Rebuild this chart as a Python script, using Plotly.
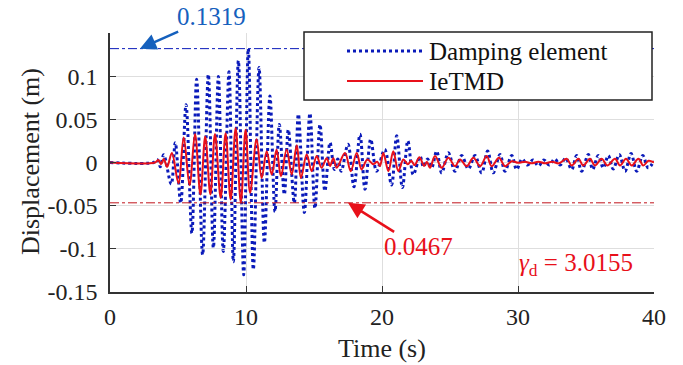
import plotly.graph_objects as go

# ---- data (extrema) ----
t_damp = [0, 3.2, 3.5, 3.7, 3.95, 4.5, 4.8, 5.2, 5.59, 6.02, 6.37, 6.81, 7.23, 7.6, 7.97,
          8.33, 8.75, 9.07, 9.44, 9.83, 10.17, 10.54, 10.96, 11.35, 11.76, 12.13, 12.45,
          12.82, 13.11, 13.55, 13.85, 14.29, 14.7, 15.07, 15.44, 15.8, 16.18, 16.5, 16.75,
          17.0, 17.5, 17.94, 18.38, 18.75, 19.17, 19.6, 20.2, 20.7, 21.08, 21.5, 21.9, 22.3,
          22.8, 23.05, 23.35, 23.65, 24.02, 24.39, 24.88, 25.37, 25.86, 26.35, 26.84, 27.33,
          27.77, 28.18, 28.68, 29.04, 29.54, 29.9, 30.3, 30.7, 31.1, 31.5, 31.9, 32.3, 32.7,
          33.1, 33.5, 33.95, 34.31, 34.68, 35.17, 35.49, 35.9, 36.27, 36.64, 37.0, 37.45,
          37.87, 38.31, 38.73, 39.17, 39.58, 40]
d_damp = [0, 0, 0.003, -0.005, 0.009, -0.025, 0.023, -0.047, 0.067, -0.082, 0.0965, -0.107,
          0.102, -0.099, 0.0996, -0.103, 0.105, -0.115, 0.118, -0.130, 0.1319, -0.124, 0.110,
          -0.093, 0.077, -0.057, 0.044, -0.037, 0.038, -0.047, 0.056, -0.058, 0.057, -0.053,
          0.044, -0.033, 0.023, -0.008, 0.004, -0.010, 0.021, -0.028, 0.0326, -0.031, 0.027,
          -0.010, 0.015, -0.026, 0.031, -0.029, 0.025, -0.014, 0.007, -0.005, 0.004, -0.006,
          0.0132, -0.012, 0.0112, -0.0101, 0.0081, -0.0074, 0.0081, -0.012, 0.0132, -0.012,
          0.0093, -0.0101, 0.0081, -0.0081, 0.004, -0.003, 0.003, -0.004, 0.003, -0.003,
          0.004, -0.003, 0.005, -0.0081, 0.0081, -0.0101, 0.0093, -0.0081, 0.0081, -0.0062,
          0.0081, -0.0074, 0.0093, -0.0101, 0.0105, -0.0101, 0.0081, -0.0062, 0.002]

t_ietmd = [0, 3.3, 3.55, 3.75, 3.95, 4.2, 4.55, 5.03, 5.42, 5.85, 6.25, 6.65, 7.0, 7.38,
           7.72, 8.14, 8.5, 8.87, 9.24, 9.62, 9.97, 10.3, 10.78, 11.15, 11.52, 11.89, 12.25,
           12.57, 12.99, 13.36, 13.73, 14.04, 14.46, 14.83, 15.2, 15.56, 15.93, 16.18, 16.42,
           16.67, 17.28, 17.7, 18.14, 18.5, 18.92, 19.36, 19.65, 19.85, 20.1, 20.47, 20.83,
           21.2, 21.57, 21.9, 22.15, 22.4, 22.75, 23.1, 23.3, 23.53, 23.9, 24.39, 24.88,
           25.37, 25.74, 26.23, 26.72, 27.21, 27.7, 28.06, 28.6, 29.04, 29.54, 30.02, 30.5,
           31.0, 31.5, 32.0, 32.5, 33.0, 33.58, 33.95, 34.44, 34.8, 35.29, 35.66, 36.15,
           36.57, 37.13, 37.5, 37.94, 38.36, 38.85, 39.21, 39.6, 40]
d_ietmd = [0, 0, 0.003, -0.002, 0.004, -0.005, 0.011, -0.024, 0.029, -0.026, 0.033, -0.037,
           0.030, -0.037, 0.033, -0.041, 0.034, -0.043, 0.040, -0.0467, 0.038, -0.035, 0.027,
           -0.018, 0.013, -0.014, 0.015, -0.016, 0.015, -0.014, 0.020, -0.018, 0.0093, -0.010,
           0.0074, -0.006, 0.005, -0.004, 0.005, -0.006, 0.011, -0.010, 0.011, -0.008, 0.0035,
           -0.002, 0.001, -0.004, 0.011, -0.010, 0.013, -0.010, 0.0035, -0.002, 0.002, -0.003,
           0.006, -0.004, 0.001, -0.006, 0.0074, -0.0062, 0.0054, -0.0043, 0.0035, -0.0043,
           0.0054, -0.0043, 0.0074, -0.0043, 0.0054, -0.0043, 0.0015, -0.0004, 0.001, -0.001,
           0.001, -0.001, 0.001, -0.001, 0.0043, -0.0035, 0.0043, -0.0035, 0.0043, -0.0035,
           0.0043, -0.0035, 0.0043, -0.0035, 0.0043, -0.0035, 0.0043, -0.0035, 0.002, 0]

series_names = ["Damping element", "IeTMD"]
peak_damp = 0.1319
peak_ietmd = -0.0467
gamma_text = "<i>γ</i><sub>d</sub> = 3.0155"
x_ticks = [0, 10, 20, 30, 40]
y_ticks = [-0.15, -0.1, -0.05, 0, 0.05, 0.1]
y_tick_text = ["-0.15", "-0.1", "-0.05", "0", "0.05", "0.1"]

BLUE = "#0a1aba"
RED = "#e8101a"
DRED = "#c0141c"
ABLUE = "#1560bd"
FONT = "Liberation Serif"

fig = go.Figure()
fig.add_trace(go.Scatter(x=t_damp, y=d_damp, mode="lines", name=series_names[0],
                         line=dict(color=BLUE, width=3, dash="dot", shape="spline", smoothing=1)))
fig.add_trace(go.Scatter(x=t_ietmd, y=d_ietmd, mode="lines", name=series_names[1],
                         line=dict(color=RED, width=2, shape="spline", smoothing=1)))

shapes = [
    dict(type="line", xref="x", yref="y", x0=0, x1=40, y0=peak_damp, y1=peak_damp,
         line=dict(color=BLUE, width=1, dash="dashdot"), layer="above"),
    dict(type="line", xref="x", yref="y", x0=0, x1=40, y0=peak_ietmd, y1=peak_ietmd,
         line=dict(color=DRED, width=1, dash="dashdot"), layer="above"),
]

L, R, T, B = 110, 654, 33, 292
def px(x):
    return (x - L) / (R - L)
def py(y):
    return (B - y) / (B - T)

shapes.append(dict(type="rect", xref="paper", yref="paper", x0=px(304), x1=px(652),
                   y0=py(100), y1=py(32), fillcolor="white",
                   line=dict(color="#222222", width=1.5), layer="above"))
shapes.append(dict(type="line", xref="paper", yref="paper", x0=px(347), x1=px(423),
                   y0=py(51), y1=py(51), line=dict(color=BLUE, width=3, dash="dot"), layer="above"))
shapes.append(dict(type="line", xref="paper", yref="paper", x0=px(347), x1=px(423),
                   y0=py(81), y1=py(81), line=dict(color=RED, width=2), layer="above"))

annotations = [
    dict(xref="paper", yref="paper", x=px(427), y=py(52), text=series_names[0],
         showarrow=False, xanchor="left", yanchor="middle",
         font=dict(family=FONT, size=25, color="#111111")),
    dict(xref="paper", yref="paper", x=px(427), y=py(82), text=series_names[1],
         showarrow=False, xanchor="left", yanchor="middle",
         font=dict(family=FONT, size=25, color="#111111")),
    dict(x=2.2, y=peak_damp, xref="x", yref="y", text=f"{peak_damp:.4f}",
         showarrow=True, arrowhead=2, arrowsize=1.3, arrowwidth=2.5, arrowcolor=ABLUE,
         ax=72, ay=-32, xanchor="center", yanchor="middle",
         font=dict(family=FONT, size=25, color=ABLUE)),
    dict(x=17.5, y=peak_ietmd, xref="x", yref="y", text=f"{abs(peak_ietmd):.4f}",
         showarrow=True, arrowhead=2, arrowsize=1.3, arrowwidth=2.5, arrowcolor=RED,
         ax=70, ay=44, xanchor="center", yanchor="middle",
         font=dict(family=FONT, size=25, color=RED)),
    dict(x=34.3, y=-0.1186, xref="x", yref="y", text=gamma_text, showarrow=False,
         xanchor="center", yanchor="middle",
         font=dict(family=FONT, size=25, color=RED)),
    dict(xref="paper", yref="paper", x=px(382), y=py(348), text="Time (s)", showarrow=False,
         xanchor="center", yanchor="middle",
         font=dict(family=FONT, size=26, color="#222222")),
    dict(xref="paper", yref="paper", x=px(30), y=py(162), text="Displacement (m)",
         showarrow=False, textangle=-90, xanchor="center", yanchor="middle",
         font=dict(family=FONT, size=26, color="#222222")),
]

axis_common = dict(showgrid=True, gridcolor="#dedede", gridwidth=1, zeroline=False,
                   showline=True, linecolor="#333333", linewidth=1.5, ticks="inside",
                   ticklen=6, tickcolor="#333333", tickwidth=1.2, mirror=False,
                   tickfont=dict(family=FONT, size=24, color="#222222"))

fig.update_layout(
    width=683, height=365,
    margin=dict(l=L, r=683 - R, t=T, b=365 - B),
    paper_bgcolor="white", plot_bgcolor="white",
    font=dict(family=FONT, size=25, color="#222222"),
    showlegend=False,
    shapes=shapes, annotations=annotations,
    xaxis=dict(range=[0, 40], tickvals=x_ticks, ticklabelstandoff=2, **axis_common),
    yaxis=dict(range=[-0.15, 0.15], tickvals=y_ticks, ticktext=y_tick_text,
               ticklabelstandoff=6, **axis_common),
)

fig.write_html("out.html")
